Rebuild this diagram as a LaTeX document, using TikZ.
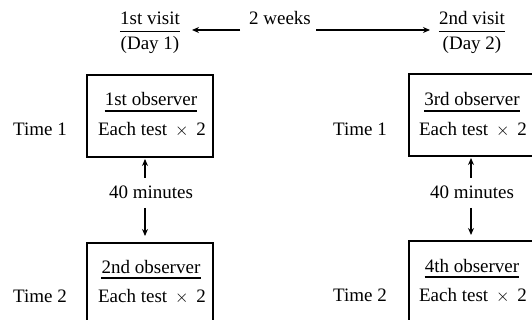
\documentclass[tikz,border=0pt]{standalone}
\usepackage{fontspec}
\setmainfont{Liberation Serif}
\usetikzlibrary{arrows.meta}
\begin{document}
\begin{tikzpicture}[x=1pt,y=1pt,
  txt/.style={inner sep=0pt,anchor=base,font=\fontsize{19}{22}\selectfont},
  obsbox/.style={draw,line width=1.2pt,minimum width=126pt,minimum height=82pt,inner sep=0pt},
  arr/.style={line width=1.4pt,-{Stealth[length=7pt,width=6pt]}},
  uline/.style={line width=1.3pt}]
\useasboundingbox (0,0) rectangle (532,-320);
\clip (0,0) rectangle (532,-320);
% header
\node[txt] (v1) at (150,-25) {1st visit};
\node[txt] (d1) at (150,-50) {(Day 1)};
\node[txt] (wk) at (280,-25) {2 weeks};
\node[txt] (v2) at (472,-25) {2nd visit};
\node[txt] (d2) at (472,-50) {(Day 2)};
\draw[uline] ([yshift=-6.5pt]v1.base west) -- ([yshift=-6.5pt]v1.base east);
\draw[uline] ([yshift=-6.5pt]v2.base west) -- ([yshift=-6.5pt]v2.base east);
\coordinate (la) at (240,-30);
\coordinate (lb) at (192,-30);
\coordinate (ra) at (316,-30);
\coordinate (rb) at (430,-30);
\draw[arr] (la) -- (lb);
\draw[arr] (ra) -- (rb);
% boxes
\node[obsbox] (b1) at (150,-116) {};
\node[obsbox] (b2) at (150,-284) {};
\node[obsbox] (b3) at (472,-115) {};
\node[obsbox] (b4) at (472,-282) {};
% box texts
\node[txt] (h1) at (151,-106) {1st observer};
\node[txt] (e1) at (152,-136) {Each test \,$\times$\, 2};
\node[txt] (h2) at (151,-273) {2nd observer};
\node[txt] (e2) at (152,-302) {Each test \,$\times$\, 2};
\node[txt] (h3) at (472,-106) {3rd observer};
\node[txt] (e3) at (473,-136) {Each test \,$\times$\, 2};
\node[txt] (h4) at (472,-272) {4th observer};
\node[txt] (e4) at (473,-301) {Each test \,$\times$\, 2};
\foreach \n in {h1,h2,h3,h4}{
  \draw[uline] ([yshift=-5pt]\n.base west) -- ([yshift=-5pt]\n.base east);}
% time labels
\node[txt] (t1) at (40,-136) {Time 1};
\node[txt] (t2) at (40,-302) {Time 2};
\node[txt] (t3) at (360,-136) {Time 1};
\node[txt] (t4) at (360,-301) {Time 2};
% 40 minutes
\node[txt] (m1) at (151,-199) {40 minutes};
\node[txt] (m2) at (472,-199) {40 minutes};
\coordinate (m1u) at (145,-178);
\coordinate (m1ut) at (145,-159);
\coordinate (m1d) at (145,-208);
\coordinate (m1dt) at (145,-236);
\coordinate (m2u) at (471,-178);
\coordinate (m2ut) at (471,-158);
\coordinate (m2d) at (471,-208);
\coordinate (m2dt) at (471,-235);
\draw[arr] (m1u) -- (m1ut);
\draw[arr] (m1d) -- (m1dt);
\draw[arr] (m2u) -- (m2ut);
\draw[arr] (m2d) -- (m2dt);
\end{tikzpicture}
\end{document}
